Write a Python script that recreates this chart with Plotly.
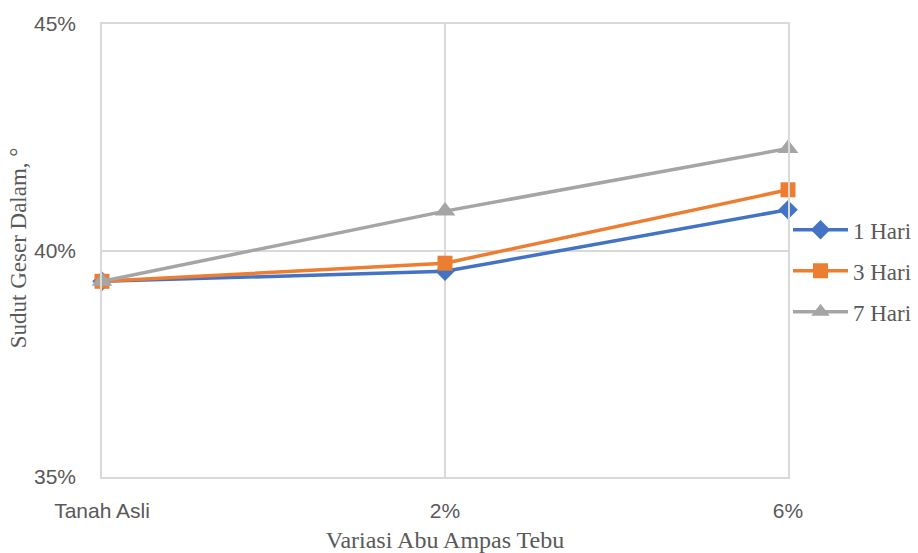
import plotly.graph_objects as go

# Curing-time series of internal friction angle vs. bagasse ash content
categories = ["Tanah Asli", "2%", "6%"]
hari_1 = [0.3932, 0.3954, 0.4090]
hari_3 = [0.3932, 0.3972, 0.4134]
hari_7 = [0.3932, 0.4087, 0.4225]
series_names = ["1 Hari", "3 Hari", "7 Hari"]
y_ticks = [0.35, 0.40, 0.45]

colors = ["#4472C4", "#ED7D31", "#A5A5A5"]
symbols = ["diamond", "square", "triangle-up"]
sizes = [15, 15, 18]

fig = go.Figure()
for name, vals, col, sym, sz in zip(series_names, [hari_1, hari_3, hari_7], colors, symbols, sizes):
    fig.add_trace(go.Scatter(
        x=categories, y=vals, name=name, mode="lines+markers",
        line=dict(color=col, width=3.5),
        marker=dict(symbol=sym, size=sz, color=col),
        legendgroup=name, cliponaxis=False,
    ))

grid = "#D9D9D9"
tick_font = dict(family="Liberation Sans Narrow, Liberation Sans, sans-serif", size=21, color="#595959")
serif = "Liberation Serif, Times New Roman, serif"

fig.update_layout(
    width=918, height=553,
    margin=dict(l=102, r=130, t=24, b=76, autoexpand=False),
    paper_bgcolor="white", plot_bgcolor="white",
    showlegend=True,
    legend=dict(
        x=1.0, xanchor="left", y=0.455, yanchor="middle",
        font=dict(family=serif, size=23, color="#595959"),
        tracegroupgap=8, itemwidth=55, bgcolor="rgba(0,0,0,0)",
    ),
    xaxis=dict(
        type="category", range=[0, 2], automargin=False,
        showgrid=True, gridcolor=grid, gridwidth=1.5,
        showline=True, linecolor=grid, linewidth=1.5, mirror=True,
        ticks="", ticklabelstandoff=14,
        tickfont=tick_font,
        title=dict(text="Variasi Abu Ampas Tebu", standoff=12,
                   font=dict(family=serif, size=24, color="#595959")),
        zeroline=False,
    ),
    yaxis=dict(
        range=[0.35, 0.45], tickvals=y_ticks, tickformat=".0%", automargin=False,
        showgrid=True, gridcolor=grid, gridwidth=1.5,
        showline=True, linecolor=grid, linewidth=1.5, mirror=True,
        ticks="", ticklabelstandoff=20,
        tickfont=tick_font,
        zeroline=False,
    ),
    annotations=[dict(
        text="Sudut Geser Dalam, °", textangle=-90,
        xref="paper", yref="paper", x=-0.1224, y=0.505,
        xanchor="center", yanchor="middle", showarrow=False,
        font=dict(family=serif, size=23, color="#595959"),
    )],
)

fig.write_html("out.html")
